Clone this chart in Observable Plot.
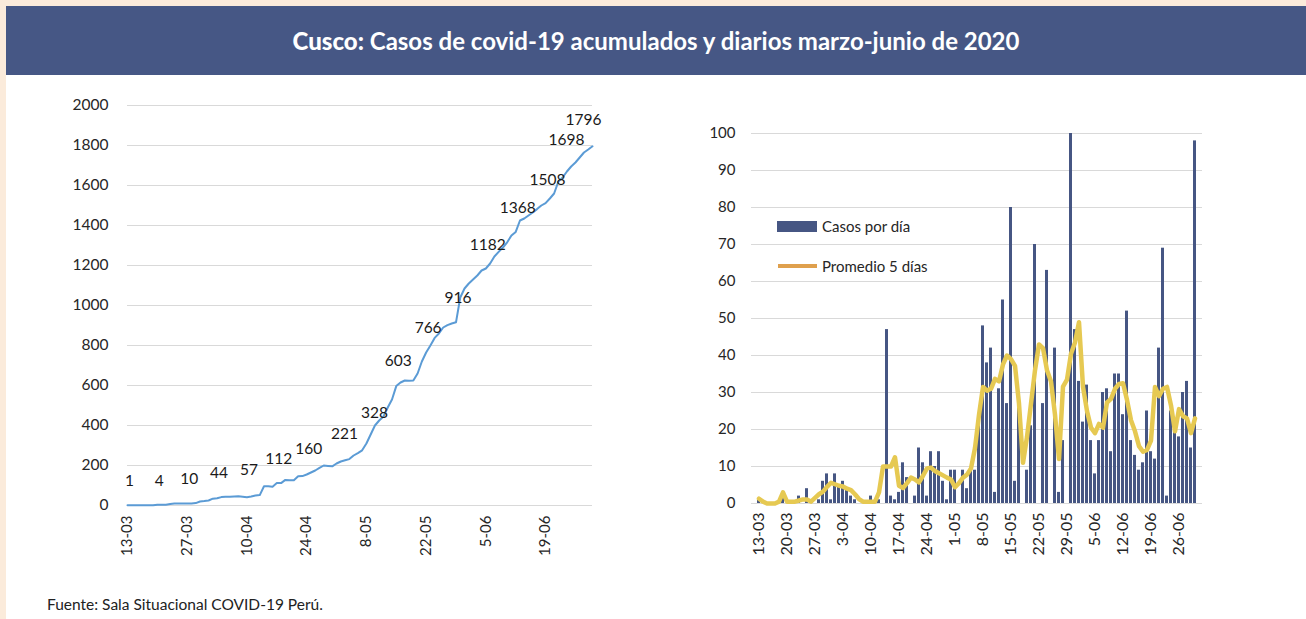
<!DOCTYPE html>
<html>
<head>
<meta charset="utf-8">
<script src="https://cdn.jsdelivr.net/npm/d3@7"></script>
<script src="https://cdn.jsdelivr.net/npm/@observablehq/plot@0.6"></script>
<style>
  html, body { margin: 0; padding: 0; }
  body { width: 1306px; height: 619px; background: #fbebdb; position: relative; overflow: hidden; font-family: Lato, sans-serif; }
  #page { position: absolute; left: 6px; top: 6px; right: 0; bottom: 0; background: #ffffff; }
  #title { position: absolute; left: 6px; top: 6px; width: 1300px; height: 69px; background: #465785; color: #fff;
           display: flex; align-items: center; justify-content: center; font-size: 24px; font-weight: 700; letter-spacing: 0; }
  #title b { font-weight: 900; }
  #left { position: absolute; left: 0; top: 80px; }
  #right { position: absolute; left: 640px; top: 80px; }
  .leg { position: absolute; font-size: 15px; color: #262626; line-height: 18px; white-space: nowrap; }
  .sw { position: absolute; }
  #caption { position: absolute; left: 47px; top: 595px; font-size: 15.5px; color: #222; line-height: 18px; }
  #left g[aria-label^="x-axis"] text { font-size: 15px; }
  #right g[aria-label^="x-axis"] text { font-size: 16px; }
</style>
</head>
<body>
<div id="page"></div>
<div id="title"><span><b>Cusco:</b> Casos de covid-19 acumulados y diarios marzo-junio de 2020</span></div>
<div id="left"></div>
<div id="right"></div>
<div class="sw" style="left:777px;top:221px;width:40px;height:11px;background:#465683"></div>
<div class="leg" style="left:822px;top:217px">Casos por día</div>
<div class="sw" style="left:778px;top:264px;width:39px;height:4px;background:#dfa04d"></div>
<div class="leg" style="left:822px;top:257px">Promedio 5 días</div>
<div id="caption">Fuente: Sala Situacional COVID-19 Perú.</div>
<script>
// ---- data ----
const firstDay = "13-03";
const lastDay = "30-06";

// cumulative cases (left chart), one per day 13-03 .. 30-06
const cumulative = [
  1,1,1,1,1,1,1,4,4,4,
  7,10,10,10,10,10,12,20,22,25,
  34,36,42,44,44,45,46,44,41,45,
  50,52,96,96,94,112,112,128,126,126,
  146,147,155,165,175,188,200,198,196,210,
  220,226,232,250,262,276,310,355,400,425,
  445,490,530,597,615,625,624,625,660,720,
  765,800,838,860,890,902,910,916,1040,1085,
  1110,1130,1150,1175,1185,1210,1245,1268,1290,1316,
  1350,1368,1425,1435,1450,1465,1482,1500,1512,1535,
  1560,1620,1640,1670,1695,1715,1740,1765,1780,1796
];

// daily cases (right chart bars)
const daily = [
  1,0,0,0,0,0,3,0,0,0,
  2,0,4,0,0,1,6,8,1,8,
  5,6,4,2,1,0,0,0,2,0,
  1,0,47,2,1,3,11,7,0,2,
  15,11,2,14,10,14,6,1,9,9,
  0,9,4,9,9,22,48,38,42,3,
  31,55,27,80,6,26,0,9,21,70,
  0,27,63,0,42,3,17,0,100,47,
  33,22,32,17,8,17,30,31,14,35,
  35,24,52,17,13,9,11,25,14,12,
  42,69,2,25,21,18,30,33,15,98
];

// 5-day average (right chart line)
const avg5 = [
  1.3,0.5,0,0,0,0.5,3,0.5,0.5,0.5,
  0.8,1.1,1.1,0.5,1.5,2.5,3.2,4.5,5.6,5.2,
  4.8,4.6,4.0,3.6,2.5,1.2,0.5,0.5,0.5,0.5,
  3,10,10,10,12.5,4.8,4.2,5.5,7,6.5,
  5.7,7.5,9.5,9.7,8.8,8.2,7.6,7,6.5,4.4,
  5.5,7,7.8,9.5,15,24,31.5,30.5,31,33.7,
  33,37.6,40,39,37.2,27,11,18,27,36,
  43,42,36,33,24,12,31.6,33.5,40.5,43.5,
  49,31.5,25,20.5,19,21.5,20.5,27.3,28.3,31,
  32.3,32.5,28,22.5,19.5,15.5,14,14.5,17,31.5,
  29,31,31.5,26.5,19.5,25.5,23.6,23,19,23
];

// data labels on the cumulative line
const labelDates = ["13-03","20-03","27-03","3-04","10-04","17-04","24-04","1-05","8-05","15-05","22-05","29-05","5-06","12-06","19-06","26-06","30-06"];
const labelValues = [1,4,10,44,57,112,160,221,328,603,766,916,1182,1368,1508,1698,1796];

// ticks
const leftXTicks = ["13-03","27-03","10-04","24-04","8-05","22-05","5-06","19-06"];
const leftYTicks = [0,200,400,600,800,1000,1200,1400,1600,1800,2000];
const rightXTicks = ["13-03","20-03","27-03","3-04","10-04","17-04","24-04","1-05","8-05","15-05","22-05","29-05","5-06","12-06","19-06","26-06"];
const rightYTicks = [0,10,20,30,40,50,60,70,80,90,100];

// ---- helpers ----
const parseDM = s => { const [d, m] = s.split("-").map(Number); return new Date(Date.UTC(2020, m - 1, d)); };
const fmtDM = d => `${d.getUTCDate()}-${String(d.getUTCMonth() + 1).padStart(2, "0")}`;
const days = d3.utcDay.range(parseDM(firstDay), d3.utcDay.offset(parseDM(lastDay), 1));
const dayLabels = days.map(fmtDM);

const leftData = days.map((date, i) => ({date, value: cumulative[i]}));
const rightData = dayLabels.map((day, i) => ({day, cases: daily[i], avg: avg5[i]}));
const labels = labelDates.map((s, i) => ({date: parseDM(s), value: labelValues[i], text: String(labelValues[i])}));

const shiftRight = new Set([221, 328]);
const shiftLeft = new Set([1698, 1796]);

const axisStyle = {fontFamily: "Lato, sans-serif", fontSize: "15.5px", color: "#262626", background: "transparent", overflow: "visible"};

const left = Plot.plot({
  width: 620, height: 490,
  marginLeft: 127, marginRight: 28, marginTop: 25, marginBottom: 65,
  style: axisStyle,
  x: {type: "utc", domain: [days[0], days[days.length - 1]], ticks: leftXTicks.map(parseDM), tickFormat: fmtDM,
      tickRotate: -90, tickSize: 0, tickPadding: 10, label: null},
  y: {domain: [0, 2000], ticks: leftYTicks, tickFormat: d => String(d), tickSize: 0, tickPadding: 19, label: null},
  marks: [
    Plot.ruleY(leftYTicks, {stroke: "#d9d9d9", strokeWidth: 1.2}),
    Plot.line(leftData, {x: "date", y: "value", stroke: "#5b9bd5", strokeWidth: 2}),
    Plot.text(labels.filter(d => !shiftRight.has(d.value) && !shiftLeft.has(d.value)),
      {x: "date", y: "value", text: "text", dy: -24, dx: 2, fill: "#1a1a1a", fontSize: 15.5}),
    Plot.text(labels.filter(d => shiftRight.has(d.value)),
      {x: "date", y: "value", text: "text", dy: -27, dx: 8, fill: "#1a1a1a", fontSize: 15.5}),
    Plot.text(labels.filter(d => shiftLeft.has(d.value)),
      {x: "date", y: "value", text: "text", dy: -26, dx: -9, fill: "#1a1a1a", fontSize: 15.5})
  ]
});
document.getElementById("left").appendChild(left);

const right = Plot.plot({
  width: 640, height: 490,
  marginLeft: 111, marginRight: 78, marginTop: 53, marginBottom: 67,
  style: {...axisStyle, fontSize: "15px"},
  x: {type: "band", domain: dayLabels, paddingInner: 0.18, paddingOuter: 0, ticks: rightXTicks,
      tickRotate: -90, tickSize: 0, tickPadding: 9, label: null},
  y: {domain: [0, 100], ticks: rightYTicks, tickSize: 0, tickPadding: 16, label: null},
  marks: [
    Plot.ruleY(rightYTicks, {stroke: "#d9d9d9", strokeWidth: 1.2}),
    Plot.barY(rightData, {x: "day", y: "cases", fill: "#465683"}),
    Plot.line(rightData, {x: "day", y: "avg", stroke: "#e6c952", strokeWidth: 4.5, strokeLinejoin: "round", strokeLinecap: "round"})
  ]
});
document.getElementById("right").appendChild(right);
</script>
</body>
</html>
